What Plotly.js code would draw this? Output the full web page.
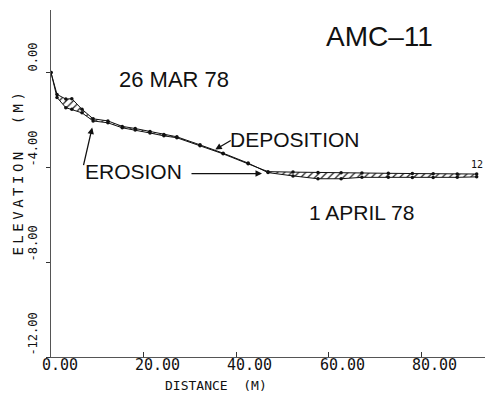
<!DOCTYPE html>
<html><head><meta charset="utf-8">
<script src="https://cdn.plot.ly/plotly-3.0.1.min.js"></script>
<style>html,body{margin:0;padding:0;background:#fff;}#chart{width:485px;height:394px;}</style>
</head><body><div id="chart"></div>
<script>
// Profile data (distance in m, elevation in m)
const distance  = [0, 1.3, 3.2, 4.5, 6.7, 9.1, 12.3, 15.4, 18.2, 21.4, 24.4, 27.2, 32.2, 37.2, 42.6, 46.9, 52.3, 57.7, 62.7, 67.2, 72.9, 78.1, 82.6, 87.8, 92.0];
const elevMar26 = [0, -0.92, -1.12, -1.10, -1.55, -1.95, -2.04, -2.27, -2.36, -2.49, -2.61, -2.71, -3.05, -3.40, -3.82, -4.22, -4.36, -4.48, -4.48, -4.42, -4.42, -4.43, -4.43, -4.42, -4.40];
const elevApr01 = [0, -1.05, -1.48, -1.55, -1.70, -2.04, -2.12, -2.33, -2.42, -2.55, -2.67, -2.75, -3.09, -3.43, -3.85, -4.18, -4.20, -4.22, -4.23, -4.24, -4.25, -4.26, -4.27, -4.28, -4.28];
const xTickVals = [0, 20, 40, 60, 80];
const xTickText = ['0.00', '20.00', '40.00', '60.00', '80.00'];
const yTickVals = [0, -4, -8, -12];
const yTickText = ['0.00', '-4.00', '-8.00', '-12.00'];

const mono = 'DejaVu Sans Mono, monospace';
const sans = 'Liberation Sans, Arial, sans-serif';

const traces = [
  {x: distance, y: elevMar26, type: 'scatter', mode: 'lines+markers',
   line: {color: '#111', width: 1}, marker: {color: '#111', size: 3.5}, hoverinfo: 'skip'},
  {x: distance, y: elevApr01, type: 'scatter', mode: 'lines+markers',
   line: {color: '#111', width: 1}, marker: {color: '#111', size: 3.5},
   fill: 'tonexty', fillcolor: 'rgba(0,0,0,0)',
   fillpattern: {shape: '/', fgcolor: '#222', bgcolor: 'rgba(0,0,0,0)', size: 5, solidity: 0.25},
   hoverinfo: 'skip'}
];

const ann = [];
xTickVals.forEach((v, i) => ann.push({x: v, xref: 'x', y: -0.024, yref: 'paper', text: xTickText[i],
  showarrow: false, xanchor: 'left', yanchor: 'middle', xshift: -11, font: {family: mono, size: 15, color: '#111'}}));
yTickVals.forEach((v, i) => ann.push({x: -0.041, xref: 'paper', y: v, yref: 'y', text: yTickText[i],
  showarrow: false, textangle: -90, xanchor: 'center', yanchor: 'middle',
  yshift: yTickText[i].length * 7.2 / 2 + 1, font: {family: mono, size: 12, color: '#111'}}));

ann.push(
  {x: 35.7, xref: 'x', y: -0.082, yref: 'paper', text: 'DISTANCE  (M)', showarrow: false,
   xanchor: 'center', yanchor: 'middle', font: {family: mono, size: 13, color: '#111'}},
  {x: -0.076, xref: 'paper', y: 0.533, yref: 'paper', text: 'ELEVATION  (M)', showarrow: false, textangle: -90,
   xanchor: 'center', yanchor: 'middle', font: {family: mono, size: 14, color: '#111'}},
  {x: 71.1, y: 1.52, text: 'AMC–11', showarrow: false, font: {family: sans, size: 28, color: '#111'}},
  {x: 26.6, y: -0.30, text: '26 MAR 78', showarrow: false, font: {family: sans, size: 22, color: '#111'}},
  {x: 52.8, y: -2.83, text: 'DEPOSITION', showarrow: false, font: {family: sans, size: 21, color: '#111'}},
  {x: 17.9, y: -4.18, text: 'EROSION', showarrow: false, font: {family: sans, size: 21, color: '#111'}},
  {x: 67.0, y: -5.91, text: '1 APRIL 78', showarrow: false, font: {family: sans, size: 21, color: '#111'}},
  {x: 93.8, y: -4.18, text: '12', showarrow: false, xanchor: 'right', yanchor: 'bottom', font: {family: mono, size: 10, color: '#111'}},
  // arrows
  {x: 35.5, y: -3.25, text: '', showarrow: true, ax: 17, ay: -10, arrowhead: 2, arrowsize: 1, arrowwidth: 1.3, arrowcolor: '#111'},
  {x: 45.6, y: -4.26, text: '', showarrow: true, ax: -72, ay: 0, arrowhead: 2, arrowsize: 1, arrowwidth: 1.3, arrowcolor: '#111'},
  {x: 8.9, y: -2.32, text: '', showarrow: true, ax: -9, ay: 39, arrowhead: 2, arrowsize: 1, arrowwidth: 1.3, arrowcolor: '#111'}
);

const layout = {
  width: 485, height: 394,
  margin: {l: 51, r: 0, t: 10, b: 37, autoexpand: false},
  paper_bgcolor: '#fff', plot_bgcolor: '#fff',
  showlegend: false,
  xaxis: {range: [0, 93.8], showgrid: false, zeroline: false, showline: true, linecolor: '#555', linewidth: 1,
          ticks: 'inside', ticklen: 5, tickcolor: '#333', tickvals: xTickVals, showticklabels: false},
  yaxis: {range: [-12, 2.64], showgrid: false, zeroline: false, showline: true, linecolor: '#555', linewidth: 1,
          ticks: 'outside', ticklen: 4, tickcolor: '#333', tickvals: yTickVals, showticklabels: false},
  annotations: ann
};

Plotly.newPlot('chart', traces, layout, {staticPlot: true}).then(() => {
  document.querySelectorAll('.annotation-text').forEach(t => {
    if (t.textContent.indexOf('ELEVATION') === 0) t.style.letterSpacing = '3.5px';
  });
});
</script></body></html>
